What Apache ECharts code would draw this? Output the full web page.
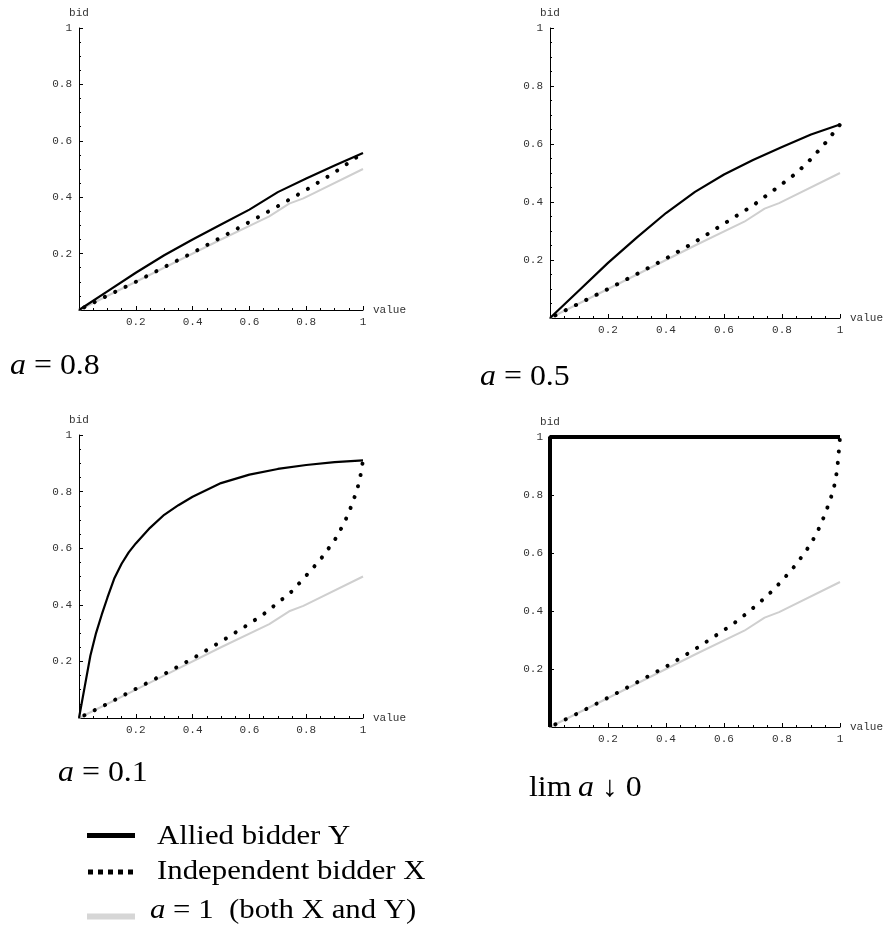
<!DOCTYPE html>
<html>
<head>
<meta charset="utf-8">
<title>Equilibrium bids</title>
<script src="https://cdn.jsdelivr.net/npm/echarts@6/dist/echarts.min.js"></script>
<style>
  html, body { margin: 0; padding: 0; background: #fff; }
  #chart { width: 884px; height: 926px; }
</style>
</head>
<body>
<div id="chart"></div>
<script>
// Bid functions (value, bid) for each alliance parameter a.
const benchmarkA1 = [[0,0],[0.25,0.125],[0.5,0.25],[0.67,0.332],[0.74,0.377],[0.79,0.396],[1,0.5]];

const alliedA08 = [[0,0],[0.1,0.066],[0.2,0.132],[0.3,0.194],[0.4,0.25],[0.5,0.303],[0.6,0.356],[0.7,0.418],[0.8,0.466],[0.9,0.512],[1,0.557]];
const independentA08 = [[0,0],[0.1,0.051],[0.2,0.1],[0.3,0.152],[0.4,0.203],[0.5,0.257],[0.6,0.312],[0.7,0.368],[0.8,0.426],[0.9,0.488],[1,0.557]];

const alliedA05 = [[0,0],[0.1,0.095],[0.2,0.19],[0.3,0.278],[0.4,0.362],[0.5,0.435],[0.6,0.495],[0.7,0.545],[0.8,0.59],[0.9,0.633],[1,0.667]];
const independentA05 = [[0,0],[0.1,0.05],[0.2,0.1],[0.3,0.152],[0.4,0.205],[0.5,0.262],[0.6,0.325],[0.7,0.388],[0.8,0.462],[0.85,0.5],[0.9,0.548],[0.95,0.604],[1,0.667]];

const alliedA01 = [[0,0],[0.02,0.11],[0.04,0.22],[0.06,0.3],[0.08,0.365],[0.1,0.425],[0.125,0.495],[0.15,0.545],[0.175,0.585],[0.2,0.617],[0.25,0.672],[0.3,0.718],[0.35,0.752],[0.4,0.782],[0.5,0.83],[0.6,0.86],[0.7,0.88],[0.8,0.894],[0.9,0.904],[1,0.91]];
const independentA01 = [[0,0],[0.1,0.05],[0.2,0.103],[0.3,0.155],[0.4,0.21],[0.5,0.27],[0.6,0.333],[0.65,0.367],[0.7,0.407],[0.75,0.448],[0.8,0.503],[0.85,0.56],[0.9,0.628],[0.93,0.682],[0.95,0.725],[0.97,0.78],[0.98,0.81],[0.99,0.85],[1,0.91]];

const alliedLimit = [[0,0],[0,1],[1,1]];
const independentLimit = [[0,0],[0.1,0.049],[0.2,0.101],[0.3,0.154],[0.4,0.208],[0.5,0.268],[0.6,0.334],[0.65,0.369],[0.7,0.41],[0.75,0.453],[0.8,0.504],[0.85,0.562],[0.9,0.632],[0.93,0.69],[0.95,0.738],[0.97,0.795],[0.98,0.83],[0.99,0.885],[0.995,0.94],[1,1]];

const tickStep = 0.2;
const panelCaptions = ['a = 0.8', 'a = 0.5', 'a = 0.1', 'lim a \u2193 0'];

const panels = [
  { allied: alliedA08, independent: independentA08, grid: { left: 79, top: 28, width: 284, height: 282 } },
  { allied: alliedA05, independent: independentA05, grid: { left: 550, top: 28, width: 292, height: 290 } },
  { allied: alliedA01, independent: independentA01, grid: { left: 79, top: 435, width: 284, height: 283 } },
  { allied: alliedLimit, independent: independentLimit, grid: { left: 550, top: 437, width: 292, height: 290 }, thick: true }
];

const MONO = "'Liberation Mono', 'DejaVu Sans Mono', monospace";
const SERIF = "'Liberation Serif', 'Times New Roman', serif";

function tickFmt(v) { return v === 1 ? '1' : v.toFixed(1); }

function axisCommon(name) {
  return {
    type: 'value', min: 0, max: 1, interval: tickStep,
    name: name, nameLocation: 'end',
    axisLine: { show: true, onZero: false, lineStyle: { color: '#000', width: 1 } },
    axisTick: { show: true, inside: true, length: 4, lineStyle: { color: '#000', width: 1 } },
    minorTick: { show: true, splitNumber: 4, length: 2, lineStyle: { color: '#000', width: 1 } },
    splitLine: { show: false },
    axisLabel: { showMinLabel: false, formatter: tickFmt, margin: 7, fontFamily: MONO, fontSize: 11, color: '#333' }
  };
}

const grids = [], xAxes = [], yAxes = [], series = [];
panels.forEach((p, i) => {
  grids.push(Object.assign({ containLabel: false }, p.grid));
  xAxes.push(Object.assign(axisCommon('value'), {
    gridIndex: i, nameGap: 10,
    nameTextStyle: { fontFamily: MONO, fontSize: 11, color: '#333', align: 'left', verticalAlign: 'middle' }
  }));
  yAxes.push(Object.assign(axisCommon('bid'), {
    gridIndex: i, nameGap: 9,
    nameTextStyle: { fontFamily: MONO, fontSize: 11, color: '#333', align: 'center' }
  }));
  series.push({
    type: 'line', xAxisIndex: i, yAxisIndex: i, data: benchmarkA1,
    showSymbol: false, silent: true,
    lineStyle: { color: '#cfcfcf', width: 2 }
  });
  series.push({
    type: 'line', xAxisIndex: i, yAxisIndex: i, data: p.allied,
    showSymbol: false, silent: true, clip: false,
    lineStyle: { color: '#000', width: p.thick ? 4 : 2.2 }
  });
  series.push({
    type: 'line', xAxisIndex: i, yAxisIndex: i, data: p.independent,
    showSymbol: false, silent: true, clip: false,
    lineStyle: { color: '#000', width: 4, type: [0.1, 11.4], cap: 'round', dashOffset: -6 }
  });
});

function caption(text, x, y) {
  // italic symbol for the parameter "a"
  const rt = text.replace(/\ba\b/, '{i|a}');
  return {
    type: 'text', x: x, y: y, scaleX: 1.1,
    style: {
      text: rt, fill: '#000', fontFamily: SERIF, fontSize: 29,
      verticalAlign: 'middle', align: 'left',
      rich: { i: { fontStyle: 'italic', fontFamily: SERIF, fontSize: 29, fill: '#000' } }
    }
  };
}

function legendText(text, x, y) {
  const rt = text.replace(/^a\b/, '{i|a}');
  return {
    type: 'text', x: x, y: y, scaleX: 1.1,
    style: {
      text: rt, fill: '#000', fontFamily: SERIF, fontSize: 28,
      verticalAlign: 'middle', align: 'left',
      rich: { i: { fontStyle: 'italic', fontFamily: SERIF, fontSize: 28, fill: '#000' } }
    }
  };
}

const legendLabels = ['Allied bidder Y', 'Independent bidder X', 'a = 1  (both X and Y)'];

const graphic = [
  caption(panelCaptions[0], 10, 366),
  caption(panelCaptions[1], 480, 377),
  caption(panelCaptions[2], 58, 773),
  caption(panelCaptions[3].replace('lim a', 'lim\u2009a'), 529, 788),
  { type: 'line', shape: { x1: 87, y1: 835.5, x2: 135, y2: 835.5 }, style: { stroke: '#000', lineWidth: 5 } },
  { type: 'line', shape: { x1: 88, y1: 872, x2: 133, y2: 872 }, style: { stroke: '#000', lineWidth: 5, lineDash: [5, 5] } },
  { type: 'line', shape: { x1: 87, y1: 916.5, x2: 135, y2: 916.5 }, style: { stroke: '#d6d6d6', lineWidth: 6 } },
  legendText(legendLabels[0], 157, 836.5),
  legendText(legendLabels[1], 157, 872),
  legendText(legendLabels[2], 150, 911)
];

const chart = echarts.init(document.getElementById('chart'), null, { renderer: 'canvas' });
chart.setOption({
  animation: false,
  backgroundColor: '#fff',
  grid: grids, xAxis: xAxes, yAxis: yAxes,
  series: series,
  graphic: graphic
});
</script>
</body>
</html>
